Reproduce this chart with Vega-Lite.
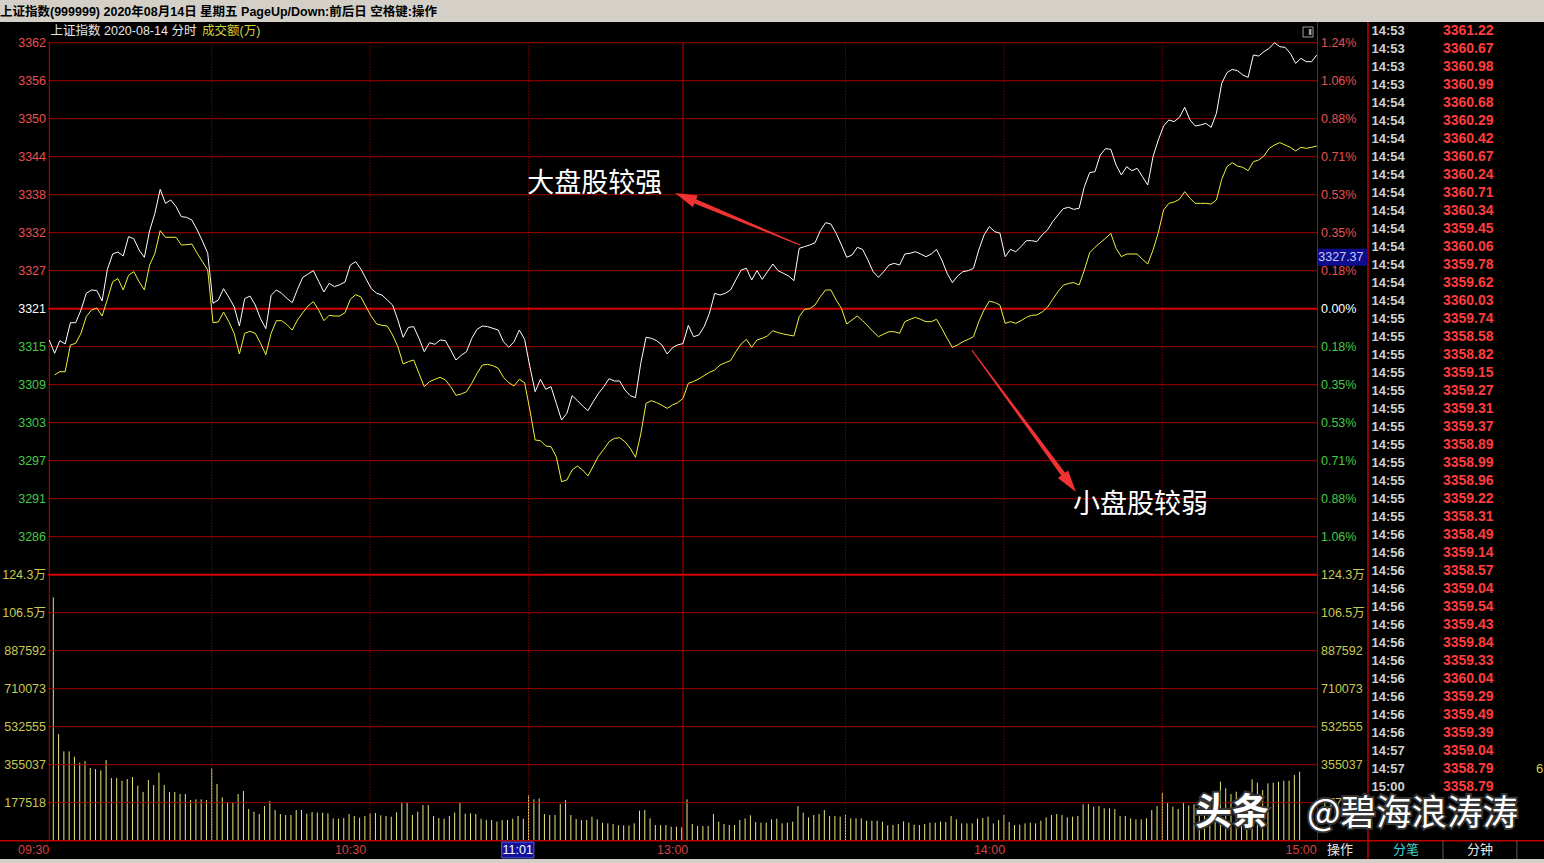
{
"$schema":"https://vega.github.io/schema/vega-lite/v6.json",
"width":1544,"height":837,
"autosize":{"type":"none"},
"padding":{"top":22,"left":0,"right":0,"bottom":4},
"background":"#d4d0c8",
"title":{"text":"上证指数(999999)  2020年08月14日 星期五 PageUp/Down:前后日 空格键:操作","anchor":"start","frame":"group","orient":"top","offset":-3,"baseline":"middle","fontSize":12.5,"fontWeight":"bold","color":"#000000","font":"Liberation Sans, Noto Sans CJK SC"},
"config":{"view":{"fill":"#000000","stroke":null},"font":"Liberation Sans, Noto Sans CJK SC"},
"datasets":{
"m":[
{"j":0,"w":3315.90,"a":null,"v":1136760},{"j":1,"w":3313.84,"a":3310.50,"v":498300},{"j":2,"w":3315.80,"a":3311.01,"v":417330},{"j":3,"w":3315.28,"a":3311.01,"v":417330},{"j":4,"w":3318.57,"a":3315.13,"v":392410},{"j":5,"w":3318.57,"a":3315.39,"v":364380},{"j":6,"w":3320.53,"a":3316.93,"v":372170},{"j":7,"w":3323.10,"a":3319.51,"v":339470},{"j":8,"w":3323.62,"a":3320.53,"v":334800},{"j":9,"w":3323.52,"a":3320.84,"v":328570},
{"j":10,"w":3321.92,"a":3319.60,"v":376840},{"j":11,"w":3326.81,"a":3322.18,"v":292750},{"j":12,"w":3329.17,"a":3324.90,"v":292750},{"j":13,"w":3329.48,"a":3325.37,"v":280300},{"j":14,"w":3328.86,"a":3323.62,"v":288080},{"j":15,"w":3331.85,"a":3325.88,"v":297430},{"j":16,"w":3331.54,"a":3326.45,"v":256940},{"j":17,"w":3329.79,"a":3324.90,"v":227350},{"j":18,"w":3328.66,"a":3323.62,"v":283410},{"j":19,"w":3332.78,"a":3327.48,"v":260050},
{"j":20,"w":3335.45,"a":3329.28,"v":317670},{"j":21,"w":3339.15,"a":3332.78,"v":260050},{"j":22,"w":3336.99,"a":3331.75,"v":227350},{"j":23,"w":3337.51,"a":3331.75,"v":227350},{"j":24,"w":3336.48,"a":3331.75,"v":218010},{"j":25,"w":3334.94,"a":3330.56,"v":218010},{"j":26,"w":3334.83,"a":3330.61,"v":189980},{"j":27,"w":3334.42,"a":3330.72,"v":193090},{"j":28,"w":3332.88,"a":3329.28,"v":193090},{"j":29,"w":3331.18,"a":3327.99,"v":189980},
{"j":30,"w":3329.28,"a":3326.70,"v":337910},{"j":31,"w":3321.56,"a":3318.57,"v":264720},{"j":32,"w":3322.07,"a":3318.68,"v":202440},{"j":33,"w":3323.82,"a":3320.22,"v":177520},{"j":34,"w":3322.49,"a":3318.73,"v":180640},{"j":35,"w":3321.04,"a":3316.93,"v":218010},{"j":36,"w":3318.06,"a":3313.74,"v":232020},{"j":37,"w":3322.28,"a":3316.93,"v":147930},{"j":38,"w":3322.69,"a":3317.24,"v":135480},{"j":39,"w":3321.30,"a":3316.93,"v":124580},
{"j":40,"w":3319.19,"a":3315.39,"v":161950},{"j":41,"w":3317.65,"a":3313.64,"v":185310},{"j":42,"w":3322.79,"a":3316.93,"v":143260},{"j":43,"w":3323.62,"a":3318.88,"v":124580},{"j":44,"w":3323.10,"a":3318.88,"v":119900},{"j":45,"w":3322.33,"a":3318.26,"v":119900},{"j":46,"w":3321.66,"a":3317.44,"v":143260},{"j":47,"w":3323.72,"a":3318.99,"v":143260},{"j":48,"w":3325.57,"a":3320.12,"v":126130},{"j":49,"w":3326.09,"a":3321.15,"v":133920},
{"j":50,"w":3326.60,"a":3321.82,"v":130800},{"j":51,"w":3324.95,"a":3320.53,"v":130800},{"j":52,"w":3323.31,"a":3318.88,"v":127690},{"j":53,"w":3324.65,"a":3319.71,"v":104330},{"j":54,"w":3324.13,"a":3319.60,"v":102780},{"j":55,"w":3324.44,"a":3319.60,"v":105890},{"j":56,"w":3324.85,"a":3320.12,"v":124580},{"j":57,"w":3327.47,"a":3322.18,"v":115230},{"j":58,"w":3327.99,"a":3322.90,"v":107450},{"j":59,"w":3326.85,"a":3322.55,"v":115230},
{"j":60,"w":3325.30,"a":3321.00,"v":127690},{"j":61,"w":3323.80,"a":3319.50,"v":129250},{"j":62,"w":3323.10,"a":3318.37,"v":118350},{"j":63,"w":3322.84,"a":3318.16,"v":115230},{"j":64,"w":3322.07,"a":3318.06,"v":112120},{"j":65,"w":3321.30,"a":3316.67,"v":132360},{"j":66,"w":3318.99,"a":3314.87,"v":179080},{"j":67,"w":3316.31,"a":3312.20,"v":180640},{"j":68,"w":3317.85,"a":3312.56,"v":119900},{"j":69,"w":3317.96,"a":3312.81,"v":135480},
{"j":70,"w":3316.16,"a":3310.75,"v":166620},{"j":71,"w":3314.10,"a":3308.70,"v":166620},{"j":72,"w":3315.49,"a":3309.47,"v":115230},{"j":73,"w":3315.23,"a":3309.83,"v":105890},{"j":74,"w":3315.90,"a":3310.14,"v":102780},{"j":75,"w":3315.80,"a":3309.73,"v":115230},{"j":76,"w":3314.36,"a":3308.70,"v":130800},{"j":77,"w":3312.81,"a":3307.36,"v":177520},{"j":78,"w":3313.53,"a":3307.56,"v":126130},{"j":79,"w":3314.10,"a":3307.92,"v":127690},
{"j":80,"w":3316.16,"a":3309.21,"v":124580},{"j":81,"w":3317.55,"a":3310.75,"v":102780},{"j":82,"w":3318.06,"a":3312.04,"v":96550},{"j":83,"w":3317.96,"a":3312.14,"v":96550},{"j":84,"w":3317.70,"a":3311.94,"v":88760},{"j":85,"w":3317.44,"a":3311.53,"v":96550},{"j":86,"w":3315.64,"a":3310.14,"v":96550},{"j":87,"w":3314.77,"a":3309.31,"v":102780},{"j":88,"w":3315.64,"a":3308.80,"v":115230},{"j":89,"w":3317.44,"a":3309.83,"v":102780},
{"j":90,"w":3316.00,"a":3309.31,"v":213340},{"j":91,"w":3311.78,"a":3305.10,"v":193090},{"j":92,"w":3307.92,"a":3300.46,"v":197770},{"j":93,"w":3309.83,"a":3300.36,"v":124580},{"j":94,"w":3308.29,"a":3299.54,"v":119900},{"j":95,"w":3308.70,"a":3299.43,"v":119900},{"j":96,"w":3306.12,"a":3297.89,"v":171290},{"j":97,"w":3303.55,"a":3294.03,"v":189980},{"j":98,"w":3304.58,"a":3294.29,"v":119900},{"j":99,"w":3307.31,"a":3295.83,"v":101220},
{"j":100,"w":3306.54,"a":3296.45,"v":96550},{"j":101,"w":3305.71,"a":3295.83,"v":96550},{"j":102,"w":3304.99,"a":3294.91,"v":112120},{"j":103,"w":3306.38,"a":3296.45,"v":99660},{"j":104,"w":3307.67,"a":3297.99,"v":84090},{"j":105,"w":3308.70,"a":3299.02,"v":80970},{"j":106,"w":3309.93,"a":3300.21,"v":77860},{"j":107,"w":3309.57,"a":3300.72,"v":71630},{"j":108,"w":3309.57,"a":3300.82,"v":71630},{"j":109,"w":3308.18,"a":3300.21,"v":71630},
{"j":110,"w":3307.31,"a":3299.18,"v":80970},{"j":111,"w":3307.00,"a":3297.79,"v":140150},{"j":112,"w":3312.30,"a":3301.39,"v":143260},{"j":113,"w":3316.31,"a":3306.12,"v":104330},{"j":114,"w":3316.16,"a":3306.54,"v":73190},{"j":115,"w":3315.80,"a":3306.23,"v":73190},{"j":116,"w":3315.13,"a":3305.82,"v":73190},{"j":117,"w":3313.74,"a":3305.35,"v":65400},{"j":118,"w":3314.70,"a":3305.87,"v":65400},{"j":119,"w":3315.15,"a":3306.23,"v":62290},
{"j":120,"w":3315.35,"a":3306.90,"v":193090},{"j":121,"w":3318.15,"a":3309.21,"v":77860},{"j":122,"w":3316.41,"a":3309.50,"v":68520},{"j":123,"w":3316.67,"a":3309.90,"v":68520},{"j":124,"w":3317.96,"a":3310.40,"v":68520},{"j":125,"w":3320.02,"a":3310.90,"v":124580},{"j":126,"w":3323.10,"a":3311.27,"v":88760},{"j":127,"w":3322.84,"a":3312.04,"v":77860},{"j":128,"w":3323.10,"a":3312.40,"v":73190},{"j":129,"w":3323.62,"a":3312.71,"v":73190},
{"j":130,"w":3325.16,"a":3314.10,"v":96550},{"j":131,"w":3326.70,"a":3315.28,"v":104330},{"j":132,"w":3326.96,"a":3316.00,"v":118350},{"j":133,"w":3325.16,"a":3314.77,"v":87200},{"j":134,"w":3326.60,"a":3315.90,"v":84090},{"j":135,"w":3325.26,"a":3316.16,"v":84090},{"j":136,"w":3326.45,"a":3316.52,"v":99660},{"j":137,"w":3327.63,"a":3317.34,"v":102780},{"j":138,"w":3326.60,"a":3317.03,"v":80970},{"j":139,"w":3326.19,"a":3316.83,"v":84090},
{"j":140,"w":3325.78,"a":3316.67,"v":88760},{"j":141,"w":3325.06,"a":3316.52,"v":161950},{"j":142,"w":3330.05,"a":3319.50,"v":130800},{"j":143,"w":3330.31,"a":3320.63,"v":109000},{"j":144,"w":3330.56,"a":3320.73,"v":119900},{"j":145,"w":3330.92,"a":3321.30,"v":124580},{"j":146,"w":3332.77,"a":3322.59,"v":143260},{"j":147,"w":3334.01,"a":3323.62,"v":115230},{"j":148,"w":3333.80,"a":3323.62,"v":115230},{"j":149,"w":3332.36,"a":3322.07,"v":112120},
{"j":150,"w":3330.56,"a":3320.79,"v":119900},{"j":151,"w":3328.66,"a":3318.37,"v":104330},{"j":152,"w":3329.02,"a":3318.99,"v":104330},{"j":153,"w":3330.20,"a":3319.60,"v":104330},{"j":154,"w":3329.89,"a":3318.88,"v":93430},{"j":155,"w":3328.25,"a":3318.06,"v":93430},{"j":156,"w":3326.45,"a":3317.18,"v":93430},{"j":157,"w":3325.57,"a":3316.41,"v":88760},{"j":158,"w":3326.45,"a":3316.82,"v":71630},{"j":159,"w":3327.47,"a":3317.18,"v":73190},
{"j":160,"w":3327.73,"a":3317.18,"v":77860},{"j":161,"w":3327.47,"a":3316.93,"v":90320},{"j":162,"w":3329.17,"a":3318.73,"v":84090},{"j":163,"w":3329.28,"a":3319.09,"v":74750},{"j":164,"w":3329.53,"a":3319.40,"v":73190},{"j":165,"w":3329.17,"a":3319.09,"v":77860},{"j":166,"w":3328.76,"a":3318.73,"v":84090},{"j":167,"w":3329.17,"a":3318.73,"v":84090},{"j":168,"w":3329.89,"a":3319.09,"v":88760},{"j":169,"w":3328.25,"a":3317.70,"v":87200},
{"j":170,"w":3326.19,"a":3316.16,"v":115230},{"j":171,"w":3324.75,"a":3314.77,"v":99660},{"j":172,"w":3325.78,"a":3315.13,"v":80970},{"j":173,"w":3326.45,"a":3315.64,"v":80970},{"j":174,"w":3326.60,"a":3316.00,"v":80970},{"j":175,"w":3326.96,"a":3316.41,"v":102780},{"j":176,"w":3329.79,"a":3318.73,"v":105890},{"j":177,"w":3332.11,"a":3320.53,"v":112120},{"j":178,"w":3333.40,"a":3321.90,"v":80970},{"j":179,"w":3332.62,"a":3321.70,"v":96550},
{"j":180,"w":3332.40,"a":3321.30,"v":119900},{"j":181,"w":3328.76,"a":3318.47,"v":87200},{"j":182,"w":3329.89,"a":3318.73,"v":73190},{"j":183,"w":3329.53,"a":3318.47,"v":74750},{"j":184,"w":3330.30,"a":3318.88,"v":80970},{"j":185,"w":3331.23,"a":3319.40,"v":84090},{"j":186,"w":3331.23,"a":3319.71,"v":80970},{"j":187,"w":3331.08,"a":3319.76,"v":93430},{"j":188,"w":3332.11,"a":3320.22,"v":109000},{"j":189,"w":3332.88,"a":3320.94,"v":119900},
{"j":190,"w":3334.16,"a":3322.17,"v":124580},{"j":191,"w":3335.19,"a":3323.36,"v":119900},{"j":192,"w":3336.17,"a":3324.34,"v":109000},{"j":193,"w":3336.38,"a":3324.64,"v":112120},{"j":194,"w":3336.07,"a":3324.75,"v":115230},{"j":195,"w":3336.22,"a":3324.39,"v":169730},{"j":196,"w":3339.57,"a":3326.70,"v":171290},{"j":197,"w":3341.73,"a":3329.38,"v":158830},{"j":198,"w":3341.88,"a":3330.20,"v":161950},{"j":199,"w":3344.45,"a":3330.92,"v":151050},
{"j":200,"w":3345.43,"a":3331.59,"v":151050},{"j":201,"w":3345.33,"a":3332.36,"v":147930},{"j":202,"w":3342.91,"a":3330.05,"v":115230},{"j":203,"w":3341.37,"a":3328.76,"v":115230},{"j":204,"w":3342.65,"a":3329.17,"v":104330},{"j":205,"w":3342.03,"a":3329.17,"v":99660},{"j":206,"w":3342.40,"a":3329.17,"v":99660},{"j":207,"w":3341.11,"a":3328.35,"v":104330},{"j":208,"w":3339.82,"a":3327.63,"v":143260},{"j":209,"w":3344.20,"a":3329.79,"v":161950},
{"j":210,"w":3346.77,"a":3332.47,"v":224240},{"j":211,"w":3348.93,"a":3335.97,"v":177520},{"j":212,"w":3349.86,"a":3336.99,"v":158830},{"j":213,"w":3349.60,"a":3337.20,"v":147930},{"j":214,"w":3350.27,"a":3337.61,"v":177520},{"j":215,"w":3351.81,"a":3338.79,"v":165060},{"j":216,"w":3349.86,"a":3337.77,"v":170000},{"j":217,"w":3348.93,"a":3336.99,"v":190000},{"j":218,"w":3349.08,"a":3336.99,"v":200000},{"j":219,"w":3349.34,"a":3336.99,"v":180000},
{"j":220,"w":3348.72,"a":3336.89,"v":230000},{"j":221,"w":3350.88,"a":3337.51,"v":275630},{"j":222,"w":3355.51,"a":3340.70,"v":244480},{"j":223,"w":3357.16,"a":3342.65,"v":218010},{"j":224,"w":3357.67,"a":3343.27,"v":228910},{"j":225,"w":3357.47,"a":3342.75,"v":197770},{"j":226,"w":3356.80,"a":3342.55,"v":197770},{"j":227,"w":3356.44,"a":3342.03,"v":286520},{"j":228,"w":3359.89,"a":3343.42,"v":270950},{"j":229,"w":3359.73,"a":3343.68,"v":236690},
{"j":230,"w":3360.40,"a":3344.30,"v":267840},{"j":231,"w":3360.92,"a":3345.48,"v":270950},{"j":232,"w":3361.79,"a":3346.00,"v":275630},{"j":233,"w":3361.17,"a":3346.36,"v":280300},{"j":234,"w":3361.07,"a":3346.00,"v":280300},{"j":235,"w":3360.15,"a":3345.64,"v":306770},{"j":236,"w":3358.60,"a":3345.07,"v":322340},{"j":237,"w":3359.37,"a":3345.64,"v":null},{"j":238,"w":3358.86,"a":3345.48,"v":null},{"j":239,"w":3358.86,"a":3345.64,"v":null},
{"j":240,"w":3359.89,"a":3345.84,"v":null}
],
"pgrid":[
{"p":3361.785,"lab":"3362","pct":"1.24%","d":"up"},{"p":3355.92,"lab":"3356","pct":"1.06%","d":"up"},{"p":3350.055,"lab":"3350","pct":"0.88%","d":"up"},{"p":3344.19,"lab":"3344","pct":"0.71%","d":"up"},{"p":3338.325,"lab":"3338","pct":"0.53%","d":"up"},{"p":3332.46,"lab":"3332","pct":"0.35%","d":"up"},{"p":3326.595,"lab":"3327","pct":"0.18%","d":"up"},{"p":3320.73,"lab":"3321","pct":"0.00%","d":"flat"},{"p":3314.865,"lab":"3315","pct":"0.18%","d":"down"},{"p":3309.0,"lab":"3309","pct":"0.35%","d":"down"},{"p":3303.135,"lab":"3303","pct":"0.53%","d":"down"},{"p":3297.27,"lab":"3297","pct":"0.71%","d":"down"},{"p":3291.405,"lab":"3291","pct":"0.88%","d":"down"},{"p":3285.54,"lab":"3286","pct":"1.06%","d":"down"}
],
"vgrid":[
{"v":1242628,"lab":"124.3万"},{"v":1065110,"lab":"106.5万"},{"v":887592,"lab":"887592"},{"v":710073,"lab":"710073"},{"v":532555,"lab":"532555"},{"v":355037,"lab":"355037"},{"v":177518,"lab":"177518"}
],
"vl":[{"j":30},{"j":60},{"j":90},{"j":150},{"j":180},{"j":210}],
"times":[{"j":0,"t":"09:30"},{"j":60,"t":"10:30"},{"j":121,"t":"13:00"},{"j":181,"t":"14:00"},{"j":240,"t":"15:00"}],
"tk":[{"t":"14:53","p":3361.22},{"t":"14:53","p":3360.67},{"t":"14:53","p":3360.98},{"t":"14:53","p":3360.99},{"t":"14:54","p":3360.68},{"t":"14:54","p":3360.29},{"t":"14:54","p":3360.42},{"t":"14:54","p":3360.67},{"t":"14:54","p":3360.24},{"t":"14:54","p":3360.71},{"t":"14:54","p":3360.34},{"t":"14:54","p":3359.45},{"t":"14:54","p":3360.06},{"t":"14:54","p":3359.78},{"t":"14:54","p":3359.62},{"t":"14:54","p":3360.03},{"t":"14:55","p":3359.74},{"t":"14:55","p":3358.58},{"t":"14:55","p":3358.82},{"t":"14:55","p":3359.15},{"t":"14:55","p":3359.27},{"t":"14:55","p":3359.31},{"t":"14:55","p":3359.37},{"t":"14:55","p":3358.89},{"t":"14:55","p":3358.99},{"t":"14:55","p":3358.96},{"t":"14:55","p":3359.22},{"t":"14:55","p":3358.31},{"t":"14:56","p":3358.49},{"t":"14:56","p":3359.14},{"t":"14:56","p":3358.57},{"t":"14:56","p":3359.04},{"t":"14:56","p":3359.54},{"t":"14:56","p":3359.43},{"t":"14:56","p":3359.84},{"t":"14:56","p":3359.33},{"t":"14:56","p":3360.04},{"t":"14:56","p":3359.29},{"t":"14:56","p":3359.49},{"t":"14:56","p":3359.39},{"t":"14:57","p":3359.04},{"t":"14:57","p":3358.79},{"t":"15:00","p":3358.79}],
"arrows":[{"a":1,"k":0,"j":142.15,"p":3330.56},{"a":1,"k":1,"j":120.55,"p":3337.89},{"a":1,"k":2,"j":118.48,"p":3338.59},{"a":2,"k":0,"j":174.72,"p":3314.30},{"a":2,"k":1,"j":193.08,"p":3293.98},{"a":2,"k":2,"j":194.41,"p":3292.44}],
"notes":[{"txt":"大盘股较强","j":90.51,"p":3339.98},{"txt":"小盘股较弱","j":193.85,"p":3290.40}]
},
"resolve":{"scale":{"x":"independent","y":"independent","color":"independent","size":"independent","angle":"independent"}},
"layer":[
{"data":{"name":"m"},"mark":{"type":"rule","color":"#e6e67a","strokeWidth":1},
 "encoding":{"x":{"field":"j","type":"quantitative","scale":{"domain":[-10.093,282.272],"nice":false,"zero":false},"axis":null},
 "y":{"field":"v","type":"quantitative","scale":{"domain":[-85489,3824582],"nice":false,"zero":false},"axis":null},"y2":{"datum":0}}},
{"data":{"name":"pgrid"},"transform":[{"filter":"datum.d !== 'flat'"}],"mark":{"type":"rule","color":"#a00000","strokeWidth":1},
 "encoding":{"x":{"datum":-0.2,"type":"quantitative","scale":{"domain":[-9.335,283.03],"nice":false,"zero":false},"axis":null},"x2":{"datum":240.14},
 "y":{"field":"p","type":"quantitative","scale":{"domain":[3235.794,3364.981],"nice":false,"zero":false},"axis":null}}},
{"data":{"name":"pgrid"},"transform":[{"filter":"datum.d === 'flat'"}],"mark":{"type":"rule","color":"#d40000","strokeWidth":2},
 "encoding":{"x":{"datum":-0.2,"type":"quantitative","scale":{"domain":[-9.335,283.03],"nice":false,"zero":false},"axis":null},"x2":{"datum":240.14},
 "y":{"field":"p","type":"quantitative","scale":{"domain":[3235.794,3364.981],"nice":false,"zero":false},"axis":null}}},
{"data":{"name":"vgrid"},"transform":[{"filter":"datum.v < 1200000"}],"mark":{"type":"rule","color":"#a00000","strokeWidth":1},
 "encoding":{"x":{"datum":-0.2,"type":"quantitative","scale":{"domain":[-9.335,283.03],"nice":false,"zero":false},"axis":null},"x2":{"datum":240.14},
 "y":{"field":"v","type":"quantitative","scale":{"domain":[-85489,3824582],"nice":false,"zero":false},"axis":null}}},
{"data":{"name":"vgrid"},"transform":[{"filter":"datum.v > 1200000"}],"mark":{"type":"rule","color":"#d40000","strokeWidth":2},
 "encoding":{"x":{"datum":-0.2,"type":"quantitative","scale":{"domain":[-9.335,283.03],"nice":false,"zero":false},"axis":null},"x2":{"datum":240.14},
 "y":{"field":"v","type":"quantitative","scale":{"domain":[-85489,3824582],"nice":false,"zero":false},"axis":null}}},
{"data":{"values":[{}]},"mark":{"type":"rule","color":"#c00000","strokeWidth":1.5},
 "encoding":{"x":{"datum":-9.335,"type":"quantitative","scale":{"domain":[-9.335,283.03],"nice":false,"zero":false},"axis":null},"x2":{"datum":283.03},
 "y":{"datum":0,"type":"quantitative","scale":{"domain":[-85489,3824582],"nice":false,"zero":false},"axis":null}}},
{"data":{"name":"vl"},"mark":{"type":"rule","color":"#b00000","strokeWidth":1,"strokeDash":[1,2]},
 "encoding":{"x":{"field":"j","type":"quantitative","scale":{"domain":[-10.093,282.272],"nice":false,"zero":false},"axis":null},
 "y":{"datum":3361.785,"type":"quantitative","scale":{"domain":[3235.794,3364.981],"nice":false,"zero":false},"axis":null},"y2":{"datum":3238.62}}},
{"data":{"values":[{"j":0},{"j":120}]},"mark":{"type":"rule","color":"#c00000","strokeWidth":1},
 "encoding":{"x":{"field":"j","type":"quantitative","scale":{"domain":[-9.335,283.03],"nice":false,"zero":false},"axis":null},
 "y":{"datum":3361.785,"type":"quantitative","scale":{"domain":[3235.794,3364.981],"nice":false,"zero":false},"axis":null},"y2":{"datum":3238.62}}},
{"data":{"values":[{}]},"mark":{"type":"rule","color":"#c00000","strokeWidth":1},
 "encoding":{"x":{"datum":240.14,"type":"quantitative","scale":{"domain":[-9.335,283.03],"nice":false,"zero":false},"axis":null},
 "y":{"datum":3364.981,"type":"quantitative","scale":{"domain":[3235.794,3364.981],"nice":false,"zero":false},"axis":null},"y2":{"datum":3238.62}}},
{"data":{"values":[{}]},"mark":{"type":"rule","color":"#c00000","strokeWidth":1.5},
 "encoding":{"x":{"datum":249.7,"type":"quantitative","scale":{"domain":[-9.335,283.03],"nice":false,"zero":false},"axis":null},
 "y":{"datum":3364.981,"type":"quantitative","scale":{"domain":[3235.794,3364.981],"nice":false,"zero":false},"axis":null},"y2":{"datum":3235.794}}},
{"data":{"values":[{}]},"mark":{"type":"rule","color":"#5a5a5a","strokeWidth":1},
 "encoding":{"x":{"datum":263.9,"type":"quantitative","scale":{"domain":[-9.335,283.03],"nice":false,"zero":false},"axis":null},
 "y":{"datum":3238.62,"type":"quantitative","scale":{"domain":[3235.794,3364.981],"nice":false,"zero":false},"axis":null},"y2":{"datum":3235.794}}},
{"data":{"values":[{}]},"mark":{"type":"rule","color":"#5a5a5a","strokeWidth":1},
 "encoding":{"x":{"datum":277.9,"type":"quantitative","scale":{"domain":[-9.335,283.03],"nice":false,"zero":false},"axis":null},
 "y":{"datum":3238.62,"type":"quantitative","scale":{"domain":[3235.794,3364.981],"nice":false,"zero":false},"axis":null},"y2":{"datum":3235.794}}},
{"data":{"name":"m"},"mark":{"type":"line","color":"#f0f03c","strokeWidth":1},
 "encoding":{"x":{"field":"j","type":"quantitative","scale":{"domain":[-9.335,283.03],"nice":false,"zero":false},"axis":null},
 "y":{"field":"a","type":"quantitative","scale":{"domain":[3235.794,3364.981],"nice":false,"zero":false},"axis":null}}},
{"data":{"name":"m"},"mark":{"type":"line","color":"#ffffff","strokeWidth":1},
 "encoding":{"x":{"field":"j","type":"quantitative","scale":{"domain":[-9.335,283.03],"nice":false,"zero":false},"axis":null},
 "y":{"field":"w","type":"quantitative","scale":{"domain":[3235.794,3364.981],"nice":false,"zero":false},"axis":null}}},
{"data":{"name":"pgrid"},"mark":{"type":"text","align":"right","baseline":"middle","fontSize":12.5},
 "encoding":{"x":{"datum":-0.625,"type":"quantitative","scale":{"domain":[-9.335,283.03],"nice":false,"zero":false},"axis":null},
 "y":{"field":"p","type":"quantitative","scale":{"domain":[3235.794,3364.981],"nice":false,"zero":false},"axis":null},
 "text":{"field":"lab"},
 "color":{"field":"d","type":"nominal","scale":{"domain":["up","flat","down"],"range":["#e65050","#ffffff","#46c846"]},"legend":null}}},
{"data":{"name":"pgrid"},"mark":{"type":"text","align":"left","baseline":"middle","fontSize":12.5},
 "encoding":{"x":{"datum":240.8,"type":"quantitative","scale":{"domain":[-9.335,283.03],"nice":false,"zero":false},"axis":null},
 "y":{"field":"p","type":"quantitative","scale":{"domain":[3235.794,3364.981],"nice":false,"zero":false},"axis":null},
 "text":{"field":"pct"},
 "color":{"field":"d","type":"nominal","scale":{"domain":["up","flat","down"],"range":["#e65050","#ffffff","#46c846"]},"legend":null}}},
{"data":{"name":"vgrid"},"mark":{"type":"text","align":"right","baseline":"middle","fontSize":12.5,"color":"#c8c850"},
 "encoding":{"x":{"datum":-0.625,"type":"quantitative","scale":{"domain":[-9.335,283.03],"nice":false,"zero":false},"axis":null},
 "y":{"field":"v","type":"quantitative","scale":{"domain":[-85489,3824582],"nice":false,"zero":false},"axis":null},
 "text":{"field":"lab"}}},
{"data":{"name":"vgrid"},"mark":{"type":"text","align":"left","baseline":"middle","fontSize":12.5,"color":"#c8c850"},
 "encoding":{"x":{"datum":240.8,"type":"quantitative","scale":{"domain":[-9.335,283.03],"nice":false,"zero":false},"axis":null},
 "y":{"field":"v","type":"quantitative","scale":{"domain":[-85489,3824582],"nice":false,"zero":false},"axis":null},
 "text":{"field":"lab"}}},
{"data":{"name":"tk"},"transform":[{"window":[{"op":"row_number","as":"r"}]}],"mark":{"type":"text","align":"left","baseline":"middle","fontSize":13,"fontWeight":"bold","color":"#d2d2d2"},
 "encoding":{"x":{"datum":250.37,"type":"quantitative","scale":{"domain":[-9.335,283.03],"nice":false,"zero":false},"axis":null},
 "y":{"field":"r","type":"quantitative","scale":{"domain":[0.5,47],"nice":false,"zero":false,"reverse":true},"axis":null},
 "text":{"field":"t"}}},
{"data":{"name":"tk"},"transform":[{"window":[{"op":"row_number","as":"r"}]}],"mark":{"type":"text","align":"left","baseline":"middle","fontSize":14,"fontWeight":"bold","color":"#ff3c3c"},
 "encoding":{"x":{"datum":263.9,"type":"quantitative","scale":{"domain":[-9.335,283.03],"nice":false,"zero":false},"axis":null},
 "y":{"field":"r","type":"quantitative","scale":{"domain":[0.5,47],"nice":false,"zero":false,"reverse":true},"axis":null},
 "text":{"field":"p","type":"quantitative","format":".2f"}}},
{"data":{"values":[{}]},"mark":{"type":"text","align":"left","baseline":"middle","fontSize":13,"color":"#d2d23c","text":"6"},
 "encoding":{"x":{"datum":281.5,"type":"quantitative","scale":{"domain":[-9.335,283.03],"nice":false,"zero":false},"axis":null},
 "y":{"datum":42,"type":"quantitative","scale":{"domain":[0.5,47],"nice":false,"zero":false,"reverse":true},"axis":null}}},
{"data":{"values":[{}]},"mark":{"type":"text","align":"left","baseline":"middle","fontSize":12.5,"color":"#e6e6e6","text":"上证指数   2020-08-14 分时"},
 "encoding":{"x":{"datum":0.23,"type":"quantitative","scale":{"domain":[-9.335,283.03],"nice":false,"zero":false},"axis":null},
 "y":{"datum":1,"type":"quantitative","scale":{"domain":[0.5,47],"nice":false,"zero":false,"reverse":true},"axis":null}}},
{"data":{"values":[{}]},"mark":{"type":"text","align":"left","baseline":"middle","fontSize":12.5,"color":"#d2d23c","text":"成交额(万)"},
 "encoding":{"x":{"datum":28.92,"type":"quantitative","scale":{"domain":[-9.335,283.03],"nice":false,"zero":false},"axis":null},
 "y":{"datum":1,"type":"quantitative","scale":{"domain":[0.5,47],"nice":false,"zero":false,"reverse":true},"axis":null}}},
{"data":{"name":"times"},"mark":{"type":"text","align":"right","baseline":"middle","fontSize":12.5,"color":"#d84040"},
 "encoding":{"x":{"field":"j","type":"quantitative","scale":{"domain":[-9.335,283.03],"nice":false,"zero":false},"axis":null},
 "y":{"datum":46.5,"type":"quantitative","scale":{"domain":[0.5,47],"nice":false,"zero":false,"reverse":true},"axis":null},
 "text":{"field":"t"}}},
{"data":{"values":[{}]},"mark":{"type":"rect","color":"#12129c","stroke":"#5a5ad2","strokeWidth":1},
 "encoding":{"x":{"datum":84.9,"type":"quantitative","scale":{"domain":[-10.093,282.272],"nice":false,"zero":false},"axis":null},"x2":{"datum":91},
 "y":{"datum":46.06,"type":"quantitative","scale":{"domain":[0.5,47],"nice":false,"zero":false,"reverse":true},"axis":null},"y2":{"datum":46.94}}},
{"data":{"values":[{}]},"mark":{"type":"text","align":"center","baseline":"middle","fontSize":12.5,"color":"#ffffff","text":"11:01"},
 "encoding":{"x":{"datum":87.95,"type":"quantitative","scale":{"domain":[-10.093,282.272],"nice":false,"zero":false},"axis":null},
 "y":{"datum":46.5,"type":"quantitative","scale":{"domain":[0.5,47],"nice":false,"zero":false,"reverse":true},"axis":null}}},
{"data":{"values":[{}]},"mark":{"type":"rect","color":"#0c0c8c"},
 "encoding":{"x":{"datum":240.24,"type":"quantitative","scale":{"domain":[-9.335,283.03],"nice":false,"zero":false},"axis":null},"x2":{"datum":249.6},
 "y":{"datum":3327.37,"type":"quantitative","scale":{"domain":[3235.794,3364.981],"nice":false,"zero":false},"axis":null},"y2":{"datum":3329.99}}},
{"data":{"values":[{}]},"mark":{"type":"text","align":"left","baseline":"middle","fontSize":12.5,"color":"#c8c8ff","text":"3327.37"},
 "encoding":{"x":{"datum":240.3,"type":"quantitative","scale":{"domain":[-9.335,283.03],"nice":false,"zero":false},"axis":null},
 "y":{"datum":3328.68,"type":"quantitative","scale":{"domain":[3235.794,3364.981],"nice":false,"zero":false},"axis":null}}},
{"data":{"values":[{}]},"mark":{"type":"text","align":"center","baseline":"middle","fontSize":13,"color":"#e6e6e6","text":"操作"},
 "encoding":{"x":{"datum":244.4,"type":"quantitative","scale":{"domain":[-9.335,283.03],"nice":false,"zero":false},"axis":null},
 "y":{"datum":46.5,"type":"quantitative","scale":{"domain":[0.5,47],"nice":false,"zero":false,"reverse":true},"axis":null}}},
{"data":{"values":[{}]},"mark":{"type":"text","align":"center","baseline":"middle","fontSize":13,"color":"#40d2d2","text":"分笔"},
 "encoding":{"x":{"datum":256.9,"type":"quantitative","scale":{"domain":[-9.335,283.03],"nice":false,"zero":false},"axis":null},
 "y":{"datum":46.5,"type":"quantitative","scale":{"domain":[0.5,47],"nice":false,"zero":false,"reverse":true},"axis":null}}},
{"data":{"values":[{}]},"mark":{"type":"text","align":"center","baseline":"middle","fontSize":13,"color":"#e6e6e6","text":"分钟"},
 "encoding":{"x":{"datum":270.9,"type":"quantitative","scale":{"domain":[-9.335,283.03],"nice":false,"zero":false},"axis":null},
 "y":{"datum":46.5,"type":"quantitative","scale":{"domain":[0.5,47],"nice":false,"zero":false,"reverse":true},"axis":null}}},
{"data":{"values":[{}]},"mark":{"type":"rect","fill":"#000000","stroke":"#a0a0a0","strokeWidth":1},
 "encoding":{"x":{"datum":237.4,"type":"quantitative","scale":{"domain":[-9.335,283.03],"nice":false,"zero":false},"axis":null},"x2":{"datum":239.29},
 "y":{"datum":3364.21,"type":"quantitative","scale":{"domain":[3235.794,3364.981],"nice":false,"zero":false},"axis":null},"y2":{"datum":3362.67}}},
{"data":{"values":[{}]},"mark":{"type":"rect","fill":"#a0a0a0"},
 "encoding":{"x":{"datum":238.5,"type":"quantitative","scale":{"domain":[-9.335,283.03],"nice":false,"zero":false},"axis":null},"x2":{"datum":239.0},
 "y":{"datum":3363.9,"type":"quantitative","scale":{"domain":[3235.794,3364.981],"nice":false,"zero":false},"axis":null},"y2":{"datum":3362.98}}},
{"data":{"name":"arrows"},"transform":[{"filter":"datum.k < 2"}],"mark":{"type":"trail","color":"#f03232"},
 "encoding":{"x":{"field":"j","type":"quantitative","scale":{"domain":[-9.335,283.03],"nice":false,"zero":false},"axis":null},
 "y":{"field":"p","type":"quantitative","scale":{"domain":[3235.794,3364.981],"nice":false,"zero":false},"axis":null},
 "size":{"field":"k","type":"quantitative","scale":{"domain":[0,1],"range":[1,5]},"legend":null},
 "detail":{"field":"a","type":"nominal"}}},
{"data":{"name":"arrows"},"transform":[{"filter":"datum.k === 2"}],"mark":{"type":"point","shape":"M0,0L0.55,1.9L-0.55,1.9Z","filled":true,"color":"#f03232","size":540,"opacity":1},
 "encoding":{"x":{"field":"j","type":"quantitative","scale":{"domain":[-9.335,283.03],"nice":false,"zero":false},"axis":null},
 "y":{"field":"p","type":"quantitative","scale":{"domain":[3235.794,3364.981],"nice":false,"zero":false},"axis":null},
 "angle":{"field":"a","type":"quantitative","scale":{"domain":[1,2],"range":[292.6,143.8]},"legend":null}}},
{"data":{"name":"notes"},"mark":{"type":"text","align":"left","baseline":"middle","fontSize":27,"color":"#ffffff","font":"Noto Sans CJK SC"},
 "encoding":{"x":{"field":"j","type":"quantitative","scale":{"domain":[-9.335,283.03],"nice":false,"zero":false},"axis":null},
 "y":{"field":"p","type":"quantitative","scale":{"domain":[3235.794,3364.981],"nice":false,"zero":false},"axis":null},
 "text":{"field":"txt"}}},
{"data":{"values":[{}]},"mark":{"type":"text","align":"left","baseline":"middle","fontSize":37,"fontWeight":"bold","fill":"#333333","stroke":"#333333","strokeWidth":4,"font":"Noto Sans CJK SC","text":"头条"},
 "encoding":{"x":{"datum":216.95,"type":"quantitative","scale":{"domain":[-9.335,283.03],"nice":false,"zero":false},"axis":null},
 "y":{"datum":124730,"type":"quantitative","scale":{"domain":[-85489,3824582],"nice":false,"zero":false},"axis":null}}},
{"data":{"values":[{}]},"mark":{"type":"text","align":"left","baseline":"middle","fontSize":35.5,"fill":"#333333","stroke":"#333333","strokeWidth":4,"font":"Noto Sans CJK SC","text":"@碧海浪涛涛"},
 "encoding":{"x":{"datum":238.16,"type":"quantitative","scale":{"domain":[-9.335,283.03],"nice":false,"zero":false},"axis":null},
 "y":{"datum":124730,"type":"quantitative","scale":{"domain":[-85489,3824582],"nice":false,"zero":false},"axis":null}}},
{"data":{"values":[{}]},"mark":{"type":"text","align":"left","baseline":"middle","fontSize":37,"fontWeight":"bold","color":"#ffffff","font":"Noto Sans CJK SC","text":"头条"},
 "encoding":{"x":{"datum":216.95,"type":"quantitative","scale":{"domain":[-9.335,283.03],"nice":false,"zero":false},"axis":null},
 "y":{"datum":124730,"type":"quantitative","scale":{"domain":[-85489,3824582],"nice":false,"zero":false},"axis":null}}},
{"data":{"values":[{}]},"mark":{"type":"text","align":"left","baseline":"middle","fontSize":35.5,"color":"#ffffff","font":"Noto Sans CJK SC","text":"@碧海浪涛涛"},
 "encoding":{"x":{"datum":238.16,"type":"quantitative","scale":{"domain":[-9.335,283.03],"nice":false,"zero":false},"axis":null},
 "y":{"datum":124730,"type":"quantitative","scale":{"domain":[-85489,3824582],"nice":false,"zero":false},"axis":null}}}
]
}
